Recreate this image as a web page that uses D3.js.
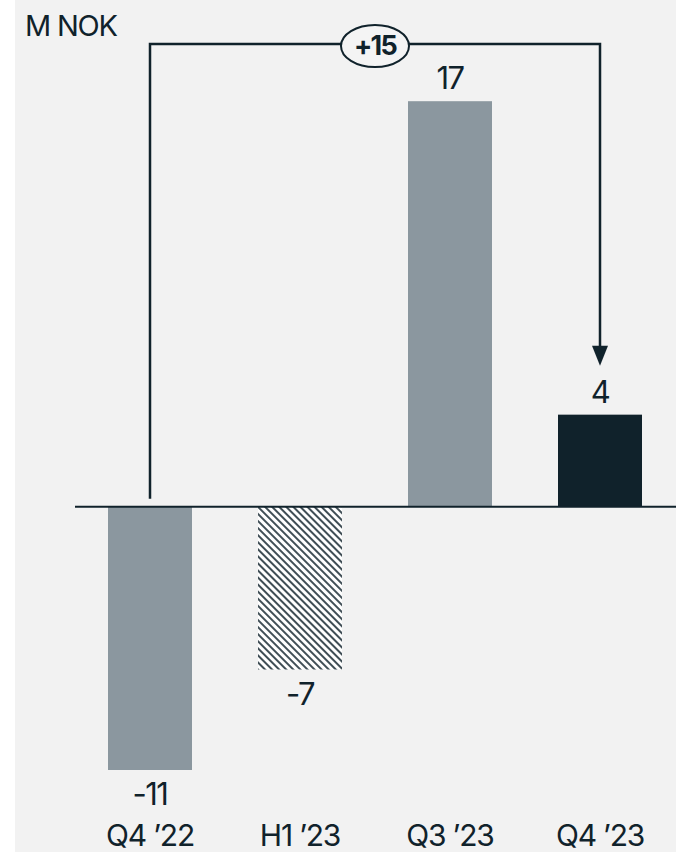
<!DOCTYPE html>
<html>
<head>
<meta charset="utf-8">
<script src="https://cdn.jsdelivr.net/npm/d3@7"></script>
<style>
    body { margin: 0; background: #ffffff; }
    svg text { font-family: Inter, "Liberation Sans", sans-serif; fill: #10222b; }
</style>
</head>
<body>
<svg id="chart"></svg>
<script>
    // values (M NOK)
    const categories = ["Q4 ’22", "H1 ’23", "Q3 ’23", "Q4 ’23"]
    const values = [-11.0, -6.8, 16.95, 3.85]
    const unit = "M NOK"

    // styling per bar
    const fills = ["#8b979f", "url(#hatch)", "#8b979f", "#10222b"]

    const width = 676
    const height = 852
    const dark = "#10222b"

    const svg = d3.select("#chart").attr("width", width).attr("height", height)

    svg.append("rect")
        .attr("x", 15).attr("y", 0)
        .attr("width", width - 15).attr("height", height)
        .attr("fill", "#f2f2f2")

    // hatch pattern for the half-year bar
    const defs = svg.append("defs")
    const pat = defs.append("pattern")
        .attr("id", "hatch")
        .attr("patternUnits", "userSpaceOnUse")
        .attr("width", 5).attr("height", 5)
        .attr("patternTransform", "rotate(45)")
    pat.append("rect").attr("width", 5).attr("height", 5).attr("fill", "#ffffff")
    pat.append("line")
        .attr("x1", 0).attr("y1", 1).attr("x2", 5).attr("y2", 1)
        .attr("stroke", dark).attr("stroke-width", 1.6)

    const x = d3.scaleBand().domain(categories).range([75, 675]).paddingInner(0.44).paddingOuter(0.22)
    const y = d3.scaleLinear().domain([-11, 17]).range([770, 100])

    const g = svg.append("g")

    // bars
    g.selectAll(".bar")
        .data(values)
        .enter().append("rect")
        .attr("class", "bar")
        .attr("x", (d, i) => x(categories[i]))
        .attr("y", d => y(Math.max(0, d)))
        .attr("width", x.bandwidth())
        .attr("height", d => Math.abs(y(d) - y(0)))
        .attr("fill", (d, i) => fills[i])

    // zero line
    g.append("line")
        .attr("x1", 75).attr("x2", width)
        .attr("y1", y(0)).attr("y2", y(0))
        .attr("stroke", dark).attr("stroke-width", 2)

    // value labels
    g.selectAll(".val")
        .data(values)
        .enter().append("text")
        .attr("class", "val")
        .attr("x", (d, i) => x(categories[i]) + x.bandwidth() / 2)
        .attr("y", d => d >= 0 ? y(d) - 12 : y(d) + 35)
        .attr("text-anchor", "middle")
        .style("font-size", "31px")
        .style("letter-spacing", "-1.5px")
        .text(d => d3.format(".0f")(d).replace("−", "-"))

    // category labels
    g.selectAll(".cat")
        .data(categories)
        .enter().append("text")
        .attr("class", "cat")
        .attr("x", d => x(d) + x.bandwidth() / 2)
        .attr("y", 846)
        .attr("text-anchor", "middle")
        .style("font-size", "30px")
        .style("letter-spacing", "-1.2px")
        .text(d => d)

    // unit label
    svg.append("text")
        .attr("x", 25).attr("y", 36)
        .style("font-size", "29px")
        .style("letter-spacing", "-1.2px")
        .text(unit)

    // change bracket from first to last period
    const first = categories[0], last = categories[categories.length - 1]
    const x0 = x(first) + x.bandwidth() / 2
    const x1 = x(last) + x.bandwidth() / 2
    const topY = 44
    const tipY = y(values[values.length - 1]) - 49
    g.append("path")
        .attr("d", `M${x0},${y(0) - 8} V${topY} H${x1} V${tipY - 19}`)
        .attr("fill", "none")
        .attr("stroke", dark)
        .attr("stroke-width", 2.5)
    g.append("path")
        .attr("d", `M${x1 - 8},${tipY - 20} L${x1 + 8},${tipY - 20} L${x1},${tipY} Z`)
        .attr("fill", dark)

    const change = values[values.length - 1] - values[0]
    const mid = (x0 + x1) / 2
    g.append("ellipse")
        .attr("cx", mid).attr("cy", topY + 2)
        .attr("rx", 34).attr("ry", 21)
        .attr("fill", "#f4f4f4")
        .attr("stroke", dark)
        .attr("stroke-width", 2)
    g.append("text")
        .attr("x", mid).attr("y", topY + 11)
        .attr("text-anchor", "middle")
        .style("font-size", "27px")
        .style("font-weight", "700")
        .style("letter-spacing", "-1.8px")
        .text(d3.format("+.0f")(change))
</script>
</body>
</html>
